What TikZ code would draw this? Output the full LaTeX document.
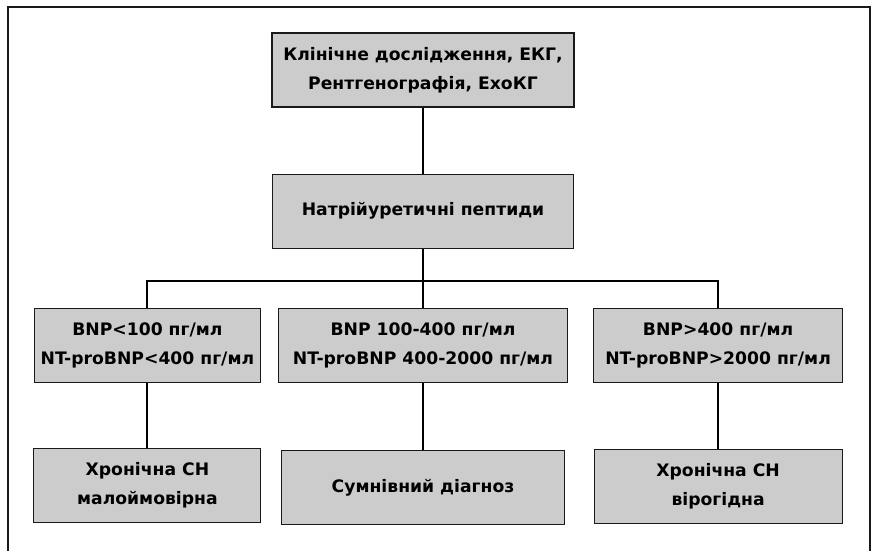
\documentclass[tikz,border=0pt]{standalone}
\usepackage{fontspec}
\setsansfont{DejaVu Sans}
\usepackage{tikz}
\usetikzlibrary{positioning, calc}
\definecolor{boxgray}{RGB}{204,204,204}
\definecolor{mydark}{RGB}{25,25,25}
\tikzset{
  block/.style={rectangle, draw=mydark, fill=boxgray, align=center,
    minimum height=74pt, inner sep=0pt, line width=1.1pt,
    font=\sffamily\bfseries\fontsize{17.2}{28.5}\selectfont},
  line/.style={line width=2pt, color=black}
}

\begin{document}
\begin{tikzpicture}[x=1pt, y=1pt]
  \useasboundingbox (0,0) rectangle (879,-550);
  % frame, open at the bottom
  \draw[line width=1.3pt, color=mydark] (8,-560) |- (870,-7) -- (870,-560);

  \node[block, minimum width=302pt] (clin) at (423,-70)
    {Клінічне дослідження, ЕКГ,\\Рентгенографія, ЕхоКГ};
  \node[block, minimum width=301pt, below=66pt of clin] (pept)
    {Натрійуретичні пептиди};

  \node[block, minimum width=289pt, below=59pt of pept] (mid)
    {BNP 100-400 пг/мл\\NT-proBNP 400-2000 пг/мл};
  \node[block, minimum width=226pt, left=17pt of mid] (low)
    {BNP<100 пг/мл\\NT-proBNP<400 пг/мл};
  \node[block, minimum width=249pt, right=25pt of mid] (high)
    {BNP>400 пг/мл\\NT-proBNP>2000 пг/мл};

  \node[block, minimum width=227pt, below=65pt of low] (unlikely)
    {Хронічна СН\\малоймовірна};
  \node[block, minimum width=283pt, below=67pt of mid] (doubt)
    {Сумнівний діагноз};
  \node[block, minimum width=248pt, below=66pt of high] (likely)
    {Хронічна СН\\вірогідна};

  \draw[line] (clin) -- (pept);
  \draw[line] (pept.south) -- ($(pept.south)!0.55!(mid.north)$) coordinate (bus);
  \draw[line] (bus) -- (mid);
  \draw[line] (bus) -| (low.north);
  \draw[line] (bus) -| (high.north);

  \draw[line] (low) -- (unlikely);
  \draw[line] (mid) -- (doubt);
  \draw[line] (high) -- (likely);
\end{tikzpicture}
\end{document}
